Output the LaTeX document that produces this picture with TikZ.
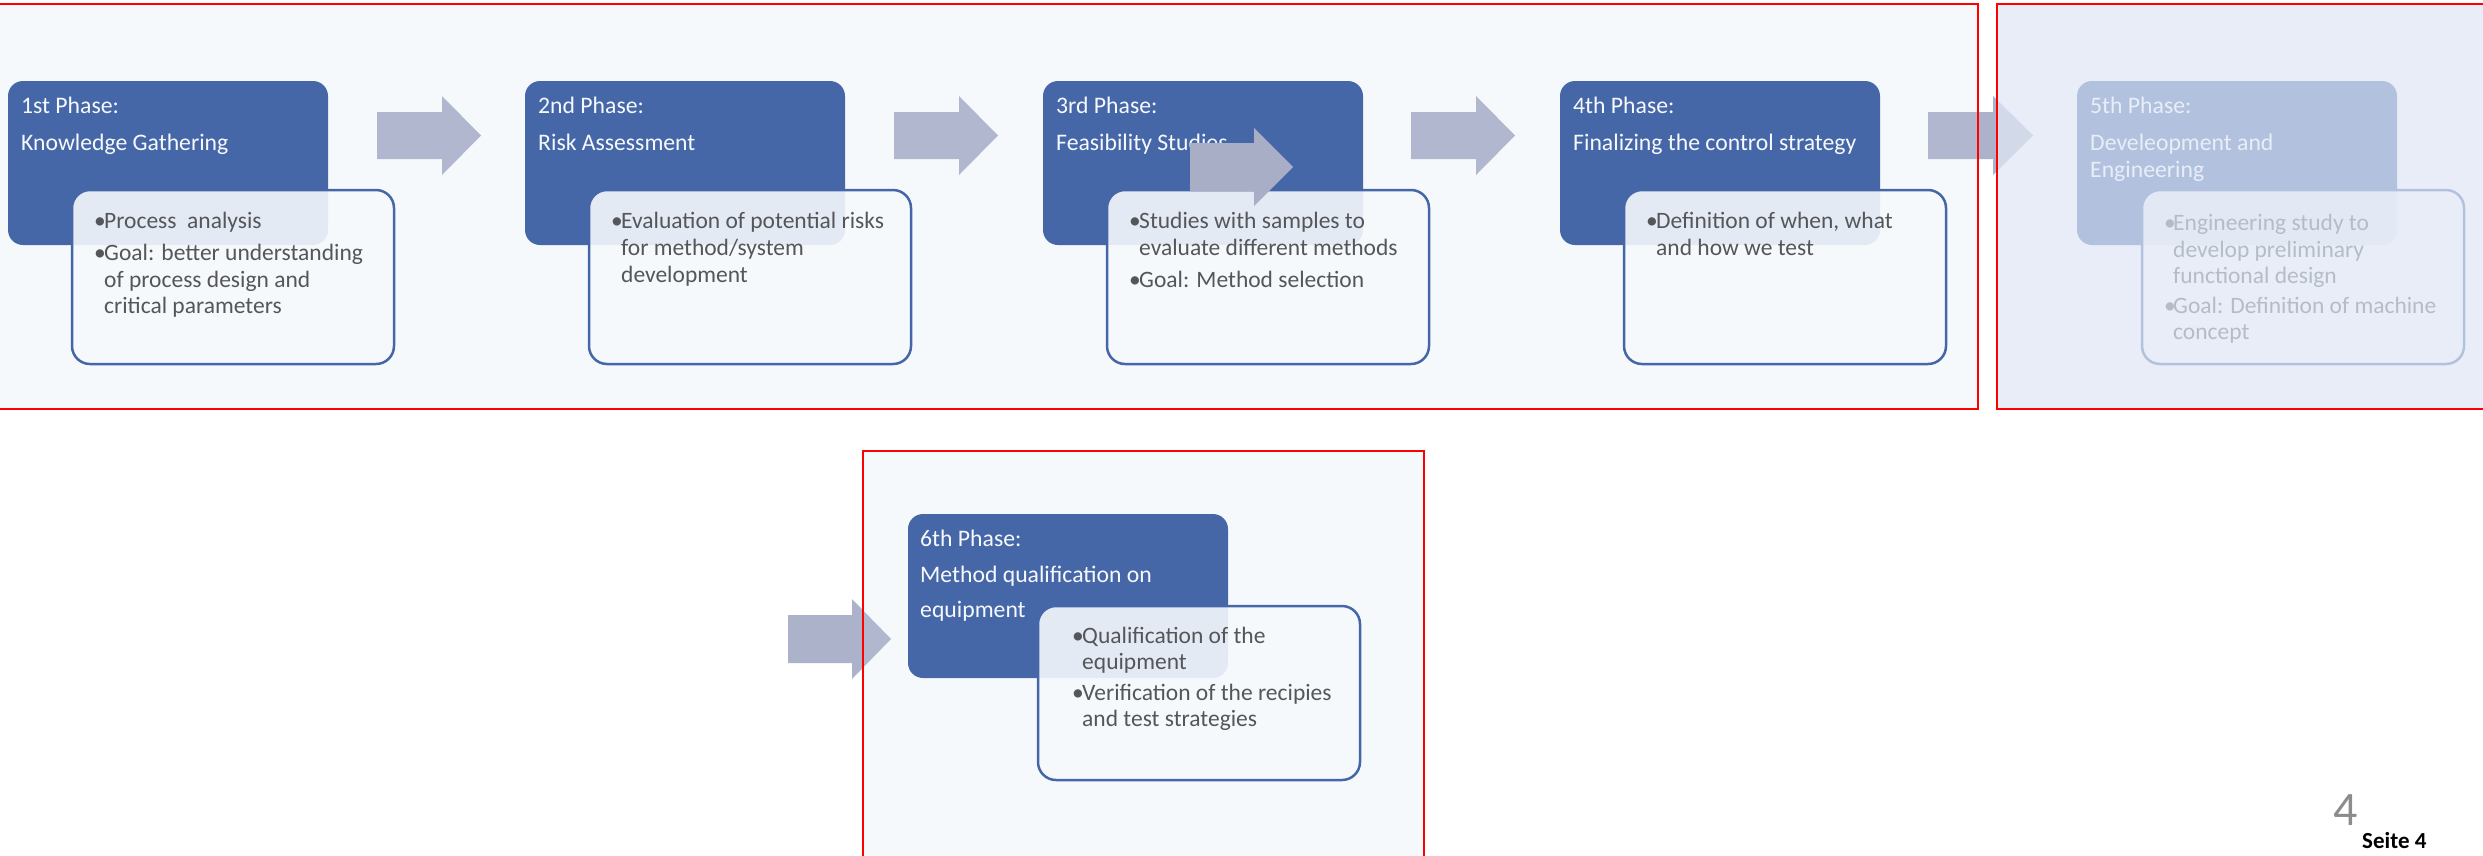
\documentclass[tikz,border=0pt]{standalone}
\usepackage{fontspec}
\setmainfont{Carlito}
\definecolor{phaseblue}{RGB}{48,84,155}
\definecolor{arrowgrey}{RGB}{172,178,202}
\definecolor{strayarrow}{RGB}{168,174,198}
\definecolor{textgrey}{RGB}{64,64,64}
\definecolor{ovlA}{RGB}{200,215,240}
\definecolor{ovlB}{RGB}{224,232,246}
\definecolor{pagegrey}{RGB}{140,140,140}
\newcommand\blockarrow[7]{\fill[#7] (#1,{#4-#5}) -- (#2,{#4-#5}) -- (#2,{#4-#6}) -- (#3,#4) -- (#2,{#4+#6}) -- (#2,{#4+#5}) -- (#1,{#4+#5}) -- cycle;}
\tikzset{
  darkbox/.style={fill=phaseblue, rounded corners=15pt, anchor=north west, inner sep=0pt, outer sep=0pt, minimum width=320, minimum height=164},
  lightbox/.style={draw=phaseblue, line width=2.5pt, fill=white, fill opacity=0.9, rounded corners=18pt, anchor=north west, inner sep=0pt, outer sep=0pt, minimum width=322, minimum height=174},
  ttl/.style={anchor=base west, inner sep=0pt, text=white, font=\fontsize{23.7}{29}\selectfont},
  btxt/.style={anchor=base west, inner sep=0pt, text=textgrey, font=\fontsize{23.5}{28}\selectfont},
  frame/.style={draw=red, line width=2.8pt},
}
\begin{document}
\begin{tikzpicture}[x=1pt,y=-1pt]
\useasboundingbox (0,0) rectangle (2483,855);
\fill[white] (0,0) rectangle (2483,855);

% block arrows
\blockarrow{377}{442}{481}{135.5}{23.5}{39.5}{arrowgrey}
\blockarrow{894}{959}{998}{135.5}{23.5}{39.5}{arrowgrey}
\blockarrow{1411}{1476}{1515}{135.5}{23.5}{39.5}{arrowgrey}
\blockarrow{1928}{1993}{2033}{135.5}{23.5}{39.5}{arrowgrey}
\blockarrow{788}{852}{891}{639}{24}{40}{arrowgrey}

% Phase 1
\node[darkbox] (d1) at (8,81) {};
\node[lightbox] (l1) at (72,190) {};
\node[ttl] (p1a) at (21,113) {1st Phase:};
\node[ttl] (p1b) at (21,150) {Knowledge Gathering};
\node[btxt] (p1u1) at (94,228) {•};
\node[btxt] (p1c) at (104,228) {Process\ \ analysis};
\node[btxt] (p1u2) at (94,260) {•};
\node[btxt] (p1d) at (104,260) {Goal: better understanding};
\node[btxt] (p1e) at (104,287) {of process design and};
\node[btxt] (p1f) at (104,313) {critical parameters};

% Phase 2
\node[darkbox] (d2) at (525,81) {};
\node[lightbox] (l2) at (589,190) {};
\node[ttl] (p2a) at (538,113) {2nd Phase:};
\node[ttl] (p2b) at (538,150) {Risk Assessment};
\node[btxt] (p2u1) at (611,228) {•};
\node[btxt] (p2c) at (621,228) {Evaluation of potential risks};
\node[btxt] (p2d) at (621,255) {for method/system};
\node[btxt] (p2e) at (621,282) {development};

% Phase 3
\node[darkbox] (d3) at (1043,81) {};
\node[lightbox] (l3) at (1107,190) {};
\node[ttl] (p3a) at (1056,113) {3rd Phase:};
\node[ttl] (p3b) at (1056,150) {Feasibility Studies};
\node[btxt] (p3u1) at (1129,228) {•};
\node[btxt] (p3c) at (1139,228) {Studies with samples to};
\node[btxt] (p3d) at (1139,255) {evaluate different methods};
\node[btxt] (p3u2) at (1129,287) {•};
\node[btxt] (p3e) at (1139,287) {Goal: Method selection};

% Phase 4
\node[darkbox] (d4) at (1560,81) {};
\node[lightbox] (l4) at (1624,190) {};
\node[ttl] (p4a) at (1573,113) {4th Phase:};
\node[ttl] (p4b) at (1573,150) {Finalizing the control strategy};
\node[btxt] (p4u1) at (1646,228) {•};
\node[btxt] (p4c) at (1656,228) {Definition of when, what};
\node[btxt] (p4d) at (1656,255) {and how we test};

% Phase 5
\node[darkbox] (d5) at (2077,81) {};
\node[lightbox] (l5) at (2142,190) {};
\node[ttl] (p5a) at (2090,113) {5th Phase:};
\node[ttl] (p5b) at (2090,150) {Develeopment and};
\node[ttl] (p5c) at (2090,177) {Engineering};
\node[btxt] (p5u1) at (2164,230) {•};
\node[btxt] (p5d) at (2173,230) {Engineering study to};
\node[btxt] (p5e) at (2173,257) {develop preliminary};
\node[btxt] (p5f) at (2173,283) {functional design};
\node[btxt] (p5u2) at (2164,313) {•};
\node[btxt] (p5g) at (2173,313) {Goal: Definition of machine};
\node[btxt] (p5h) at (2173,339) {concept};

% Phase 6
\node[darkbox] (d6) at (908,514) {};
\node[lightbox] (l6) at (1038,606) {};
\node[ttl] (p6a) at (920,546) {6th Phase:};
\node[ttl] (p6b) at (920,582) {Method qualification on};
\node[ttl] (p6c) at (920,617) {equipment};
\node[btxt] (p6u1) at (1072,643) {•};
\node[btxt] (p6d) at (1082,643) {Qualification of the};
\node[btxt] (p6e) at (1082,669) {equipment};
\node[btxt] (p6u2) at (1072,700) {•};
\node[btxt] (p6f) at (1082,700) {Verification of the recipies};
\node[btxt] (p6g) at (1082,726) {and test strategies};

% frames (translucent overlays)
\fill[ovlA, fill opacity=0.15] (-5,4) rectangle (1978,409);
\draw[frame] (-5,4) rectangle (1978,409);
\fill[ovlB, fill opacity=0.74] (1997,4) rectangle (2495,409);
\draw[frame] (1997,4) rectangle (2495,409);
\fill[ovlA, fill opacity=0.15] (863,451) rectangle (1424,865);
\draw[frame] (863,451) rectangle (1424,865);

% stray arrow on top
\blockarrow{1190}{1254}{1293}{167}{24}{39}{strayarrow}

% page number
\node[anchor=base west, inner sep=0pt, text=pagegrey, font=\fontsize{48}{56}\selectfont] (pg) at (2333,825) {4};
\node[anchor=base west, inner sep=0pt, text=black, font=\bfseries\fontsize{23}{28}\selectfont] (seite) at (2362,848) {Seite 4};
\end{tikzpicture}
\end{document}
